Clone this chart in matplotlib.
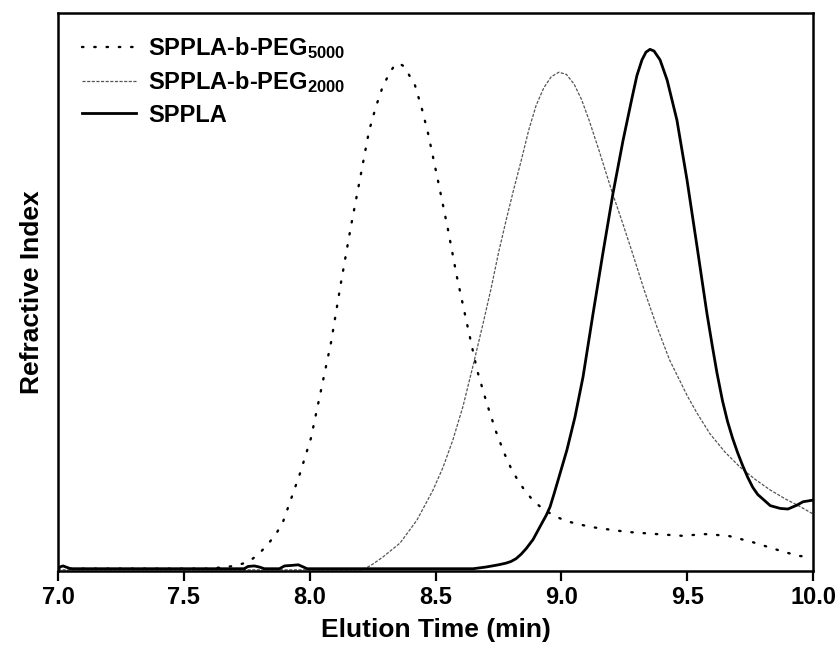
import matplotlib
matplotlib.use("Agg")
import matplotlib.pyplot as plt

plt.rcParams['font.family'] = ['Liberation Sans', 'DejaVu Sans']
plt.rcParams['font.weight'] = 'bold'
plt.rcParams['mathtext.fontset'] = 'custom'
plt.rcParams['mathtext.rm'] = 'Liberation Sans:bold'
plt.rcParams['mathtext.it'] = 'Liberation Sans:bold'
plt.rcParams['mathtext.bf'] = 'Liberation Sans:bold'
plt.rcParams['mathtext.default'] = 'rm'

# SPPLA-b-PEG5000 (dotted)
peg5000_x = [7.00, 7.30, 7.60, 7.703, 7.755, 7.795, 7.834, 7.866, 7.894, 7.961, 8.005, 8.045,
             8.085, 8.124, 8.164, 8.200, 8.236, 8.263, 8.290, 8.319, 8.337, 8.355, 8.373,
             8.391, 8.418, 8.446, 8.470, 8.510, 8.549, 8.585, 8.625, 8.665, 8.704, 8.740,
             8.772, 8.800, 8.830, 8.860, 8.890, 8.930, 8.975, 9.022, 9.114, 9.209, 9.261,
             9.380, 9.479, 9.571, 9.662, 9.757, 9.849, 9.940, 9.996]
peg5000_y = [0.004, 0.004, 0.004, 0.009, 0.016, 0.029, 0.048, 0.066, 0.088, 0.174, 0.238, 0.324,
             0.410, 0.516, 0.618, 0.703, 0.789, 0.832, 0.868, 0.894, 0.906, 0.910, 0.905,
             0.892, 0.871, 0.828, 0.785, 0.699, 0.613, 0.527, 0.443, 0.360, 0.300, 0.250,
             0.212, 0.184, 0.160, 0.141, 0.125, 0.110, 0.098, 0.089, 0.079, 0.073, 0.070,
             0.066, 0.063, 0.066, 0.063, 0.052, 0.039, 0.027, 0.025]

# SPPLA-b-PEG2000 (fine dashed)
peg2000_x = [7.00, 7.50, 8.00, 8.212, 8.250, 8.291, 8.359, 8.426, 8.490, 8.530, 8.569, 8.609,
             8.649, 8.689, 8.720, 8.750, 8.780, 8.810, 8.840, 8.870, 8.900, 8.930, 8.960,
             8.990, 9.020, 9.050, 9.080, 9.110, 9.150, 9.200, 9.240, 9.280, 9.330, 9.380,
             9.430, 9.500, 9.540, 9.590, 9.650, 9.710, 9.770, 9.830, 9.890, 9.950, 10.00]
peg2000_y = [0.002, 0.002, 0.002, 0.002, 0.012, 0.025, 0.050, 0.091, 0.145, 0.186, 0.235, 0.295,
             0.368, 0.444, 0.505, 0.570, 0.628, 0.683, 0.735, 0.790, 0.835, 0.866, 0.886,
             0.894, 0.890, 0.873, 0.845, 0.808, 0.753, 0.681, 0.628, 0.573, 0.502, 0.437,
             0.378, 0.314, 0.282, 0.246, 0.213, 0.186, 0.164, 0.145, 0.129, 0.115, 0.102]

# SPPLA (solid)
sppla_x = [7.00, 7.02, 7.05, 7.40, 7.74, 7.755, 7.78, 7.80, 7.82, 7.88, 7.90, 7.93, 7.955,
           7.975, 7.99, 8.40, 8.65, 8.70, 8.75, 8.78, 8.80, 8.82, 8.84, 8.86, 8.887, 8.923,
           8.940, 8.955, 8.970, 8.987, 9.022, 9.054, 9.086, 9.126, 9.165, 9.205, 9.245,
           9.281, 9.300, 9.320, 9.336, 9.352, 9.368, 9.392, 9.420, 9.459, 9.499, 9.539,
           9.578, 9.600, 9.618, 9.640, 9.660, 9.680, 9.700, 9.720, 9.740, 9.760, 9.780,
           9.830, 9.870, 9.900, 9.936, 9.960, 10.00]
sppla_y = [0.006, 0.009, 0.004, 0.004, 0.004, 0.008, 0.009, 0.007, 0.004, 0.004, 0.009, 0.010,
           0.011, 0.007, 0.004, 0.004, 0.004, 0.007, 0.011, 0.014, 0.017, 0.022, 0.030, 0.040,
           0.056, 0.086, 0.100, 0.115, 0.137, 0.163, 0.217, 0.276, 0.348, 0.462, 0.570,
           0.677, 0.772, 0.849, 0.888, 0.916, 0.930, 0.935, 0.932, 0.916, 0.880, 0.808,
           0.701, 0.581, 0.462, 0.402, 0.355, 0.305, 0.268, 0.238, 0.212, 0.189, 0.168,
           0.150, 0.137, 0.117, 0.112, 0.111, 0.118, 0.124, 0.127]

labels = ['SPPLA-b-PEG$_{5000}$', 'SPPLA-b-PEG$_{2000}$', 'SPPLA']
xticks = [7.0, 7.5, 8.0, 8.5, 9.0, 9.5, 10.0]

fig = plt.figure(figsize=(8.4, 6.54), dpi=100)
ax = fig.add_axes([0.069, 0.127, 0.899, 0.853])

ax.plot(peg5000_x, peg5000_y, color='black', lw=1.7, linestyle=(0, (0.6, 4.6)),
        dash_capstyle='round', label=labels[0])
ax.plot(peg2000_x, peg2000_y, color='#555555', lw=0.9, linestyle=(0, (2.5, 1.2)),
        label=labels[1])
ax.plot(sppla_x, sppla_y, color='black', lw=2.0, label=labels[2],
        solid_joinstyle='round')

ax.set_xlim(7.0, 10.0)
ax.set_ylim(0, 1)
ax.set_xticks(xticks)
ax.set_xticklabels([f"{v:.1f}" for v in xticks])
ax.set_yticks([])
ax.tick_params(axis='x', direction='out', length=7, width=1.6, labelsize=17, pad=4)
for s in ax.spines.values():
    s.set_linewidth(1.8)

ax.set_xlabel('Elution Time (min)', fontsize=19, fontweight='bold', labelpad=6)
ax.set_ylabel('Refractive Index', fontsize=19, fontweight='bold', labelpad=10)

leg = ax.legend(loc='upper left', frameon=False, fontsize=17, handlelength=2.3,
                handletextpad=0.5, labelspacing=0.35, borderaxespad=0.3,
                bbox_to_anchor=(0.01, 0.99))

fig.savefig('out.png', dpi=100)
